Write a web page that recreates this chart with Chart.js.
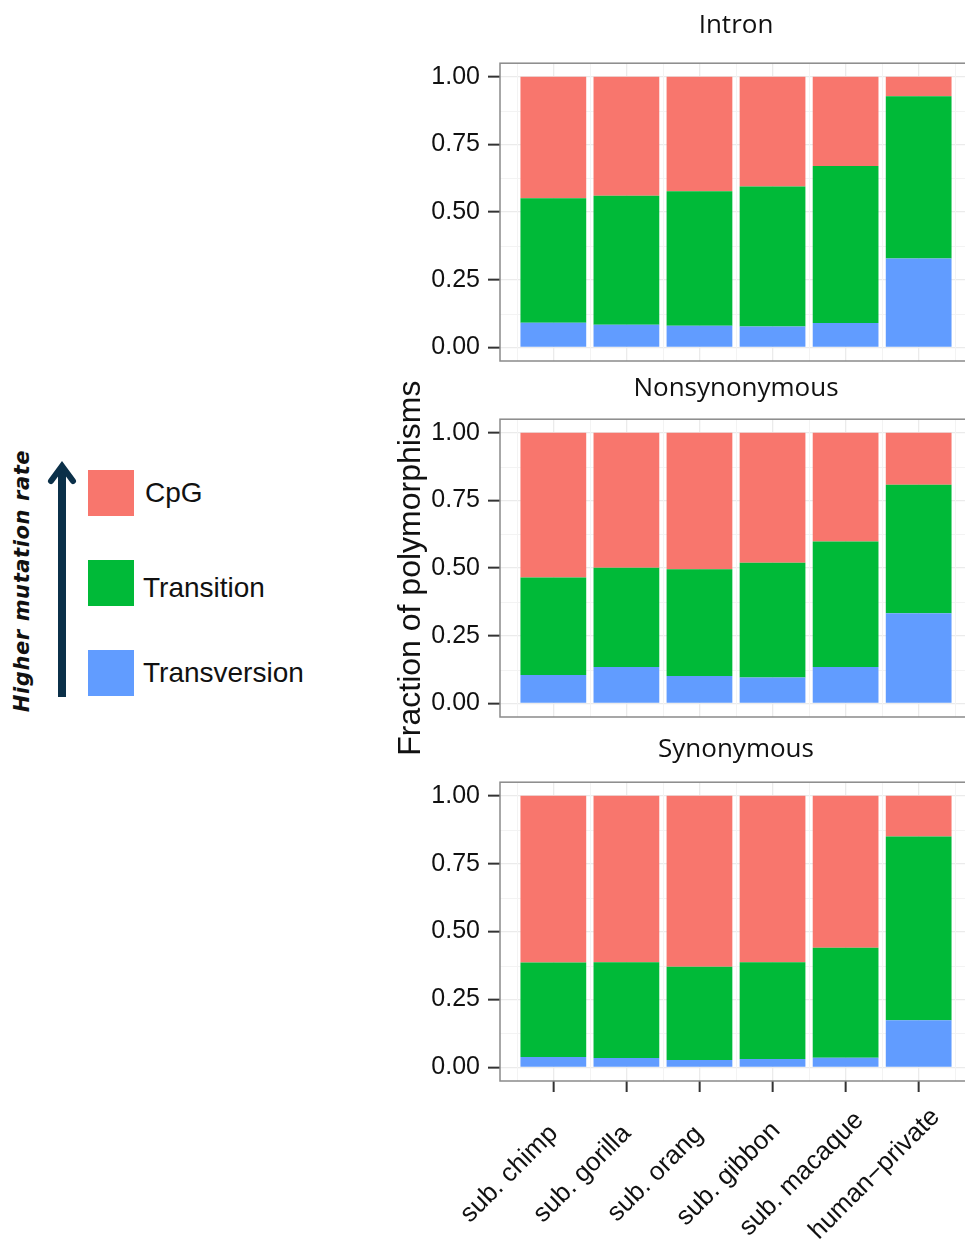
<!DOCTYPE html>
<html>
<head>
<meta charset="utf-8">
<script src="https://cdn.jsdelivr.net/npm/chart.js@4.4.1/dist/chart.umd.min.js"></script>
<style>
  html, body { margin: 0; padding: 0; background: #fff; overflow: hidden; }
  body { width: 965px; height: 1243px; position: relative; font-family: "Liberation Sans", Arial, sans-serif; }
  .panel { position: absolute; left: 380px; width: 592px; }
  .lg-box { position: absolute; left: 88px; width: 46px; height: 46px; }
  .lg-text { position: absolute; font-size: 28px; color: #111; line-height: 1; transform: translateY(-50%); white-space: nowrap; }
  #rateLabel { position: absolute; left: 22px; top: 581px; transform: translate(-50%, -50%) rotate(-90deg);
    font-family: "DejaVu Sans", sans-serif; font-weight: bold; font-style: italic; font-size: 21px; letter-spacing: 0.6px; color: #111; white-space: nowrap; }
  #arrow { position: absolute; left: 0; top: 0; }
</style>
</head>
<body>
<svg id="arrow" width="100" height="720">
  <line x1="62" y1="697" x2="62" y2="470" stroke="#0b3049" stroke-width="8"/>
  <polyline points="51,481 62,466 73,481" fill="none" stroke="#0b3049" stroke-width="6" stroke-linecap="round" stroke-linejoin="miter"/>
</svg>
<div id="rateLabel">Higher mutation rate</div>
<div id="legend"></div>

<div class="panel" id="w0" style="top:0px;height:389px"><canvas id="c0"></canvas></div>
<div class="panel" id="w1" style="top:356px;height:420px"><canvas id="c1"></canvas></div>
<div class="panel" id="w2" style="top:719px;height:524px"><canvas id="c2"></canvas></div>

<script>
// categories and facets
const categories = ["sub. chimp", "sub. gorilla", "sub. orang", "sub. gibbon", "sub. macaque", "human\u2212private"];
const facets = ["Intron", "Nonsynonymous", "Synonymous"];
const seriesNames = ["Transversion", "Transition", "CpG"];   // bottom -> top of stack
const seriesColors = ["#619CFF", "#00BA38", "#F8766D"];

// fractions
const intronTransversion = [0.091, 0.084, 0.080, 0.077, 0.090, 0.329];
const intronTransition   = [0.460, 0.476, 0.497, 0.518, 0.580, 0.599];
const intronCpG          = [0.449, 0.440, 0.423, 0.405, 0.330, 0.072];

const nonsynTransversion = [0.105, 0.135, 0.101, 0.096, 0.135, 0.333];
const nonsynTransition   = [0.360, 0.366, 0.395, 0.424, 0.463, 0.475];
const nonsynCpG          = [0.535, 0.499, 0.504, 0.480, 0.402, 0.192];

const synTransversion = [0.038, 0.035, 0.027, 0.031, 0.036, 0.174];
const synTransition   = [0.348, 0.352, 0.344, 0.356, 0.405, 0.676];
const synCpG          = [0.614, 0.613, 0.629, 0.613, 0.559, 0.150];

const yTickValues = [0, 0.25, 0.5, 0.75, 1];
const yTickLabels = ["0.00", "0.25", "0.50", "0.75", "1.00"];
const yTitle = "Fraction of polymorphisms";

const facetData = [
  [intronTransversion, intronTransition, intronCpG],
  [nonsynTransversion, nonsynTransition, nonsynCpG],
  [synTransversion, synTransition, synCpG],
];

// legend on the left (top -> bottom: CpG, Transition, Transversion)
const legendTops = [470, 560, 650];
const legendTextY = [493, 588, 673];
const legendTextX = [145, 143, 143];
const legend = document.getElementById("legend");
[2, 1, 0].forEach((s, i) => {
  const box = document.createElement("div");
  box.className = "lg-box";
  box.style.top = legendTops[i] + "px";
  box.style.background = seriesColors[s];
  legend.appendChild(box);
  const t = document.createElement("div");
  t.className = "lg-text";
  t.style.left = legendTextX[i] + "px";
  t.style.top = legendTextY[i] + "px";
  t.textContent = seriesNames[s];
  legend.appendChild(t);
});

const FONT = "'Liberation Sans', Arial, sans-serif";

// minor grid lines and panel border, like ggplot's theme_bw
const panelPlugin = {
  id: "panel",
  beforeDatasetsDraw(chart) {
    const { ctx, chartArea: a, scales: { x, y } } = chart;
    ctx.save();
    ctx.strokeStyle = "#f3f3f3";
    ctx.lineWidth = 1;
    for (let i = 0; i < yTickValues.length - 1; i++) {
      const py = Math.round(y.getPixelForValue((yTickValues[i] + yTickValues[i + 1]) / 2)) + 0.5;
      ctx.beginPath(); ctx.moveTo(a.left, py); ctx.lineTo(a.right, py); ctx.stroke();
    }
    for (let i = 0; i <= categories.length; i++) {
      const px = Math.round(x.getPixelForValue(i - 0.5)) + 0.5;
      ctx.beginPath(); ctx.moveTo(px, a.top); ctx.lineTo(px, a.bottom); ctx.stroke();
    }
    ctx.restore();
  },
  afterDatasetsDraw(chart) {
    const { ctx, chartArea: a } = chart;
    ctx.save();
    ctx.strokeStyle = "#8a8a8a";
    ctx.lineWidth = 1.5;
    ctx.strokeRect(a.left, a.top, a.right - a.left, a.bottom - a.top);
    ctx.restore();
  }
};

// ggplot-style 45° labels, centred under each tick (hjust 0.5)
const xLabelPlugin = {
  id: "xlabels",
  afterDraw(chart) {
    const { ctx, chartArea: a, scales: { x } } = chart;
    ctx.save();
    ctx.fillStyle = "#111";
    ctx.font = "26px " + FONT;
    ctx.textAlign = "center";
    ctx.textBaseline = "middle";
    categories.forEach((c, i) => {
      ctx.save();
      ctx.translate(x.getPixelForValue(i) - 44, a.bottom + 93);
      ctx.rotate(-Math.PI / 4);
      ctx.fillText(c, 0, 0);
      ctx.restore();
    });
    ctx.restore();
  }
};

const titlePad = [{ top: 10, bottom: 22 }, { top: 17, bottom: 15 }, { top: 15, bottom: 17 }];
const bottomPad = [28, 59, 151];

function makeChart(k) {
  const last = k === facets.length - 1;
  const mid = k === 1;
  const datasets = seriesNames.map((name, s) => ({
    label: name,
    data: facetData[k][s].map((v, i) => ({ x: i, y: v })),
    backgroundColor: seriesColors[s],
    borderWidth: 0,
    barPercentage: 0.9,
    categoryPercentage: 1.0,
  }));
  return new Chart(document.getElementById("c" + k), {
    type: "bar",
    data: { datasets },
    plugins: last ? [panelPlugin, xLabelPlugin] : [panelPlugin],
    options: {
      responsive: true,
      maintainAspectRatio: false,
      animation: false,
      layout: { padding: { top: 0, right: 0, left: 0, bottom: bottomPad[k] } },
      plugins: {
        legend: { display: false },
        tooltip: { enabled: false },
        title: {
          display: true,
          text: facets[k],
          fullSize: false,
          color: "#111",
          font: { family: "'Open Sans', sans-serif", size: 26, weight: "normal", lineHeight: 1.2 },
          padding: titlePad[k],
        },
      },
      scales: {
        x: {
          type: "linear",
          stacked: true,
          offset: false,
          min: -0.73,
          max: 5.73,
          afterBuildTicks: (sc) => { sc.ticks = categories.map((c, i) => ({ value: i })); },
          border: { display: false },
          grid: { offset: false, color: "#ebebeb", lineWidth: 1.3, drawTicks: last, tickLength: 11, tickColor: "#333", tickWidth: 2 },
          ticks: { display: false },
        },
        y: {
          stacked: true,
          min: -0.05,
          max: 1.05,
          afterBuildTicks: (sc) => { sc.ticks = yTickValues.map(v => ({ value: v })); },
          afterFit: (sc) => { sc.width = 120; },
          border: { display: false },
          grid: { color: "#ebebeb", lineWidth: 1.3, tickLength: 12, tickColor: "#333", tickWidth: 2 },
          ticks: {
            autoSkip: false,
            padding: 8,
            color: "#111",
            font: { family: FONT, size: 25 },
            callback: (v) => {
              const i = yTickValues.findIndex(t => Math.abs(t - v) < 1e-6);
              return i >= 0 ? yTickLabels[i] : "";
            },
          },
          title: {
            display: mid,
            text: yTitle,
            color: "#111",
            font: { family: FONT, size: 32 },
            padding: { top: 12, bottom: 0 },
          },
        },
      },
    },
  });
}

facets.forEach((f, k) => makeChart(k));
</script>
</body>
</html>
